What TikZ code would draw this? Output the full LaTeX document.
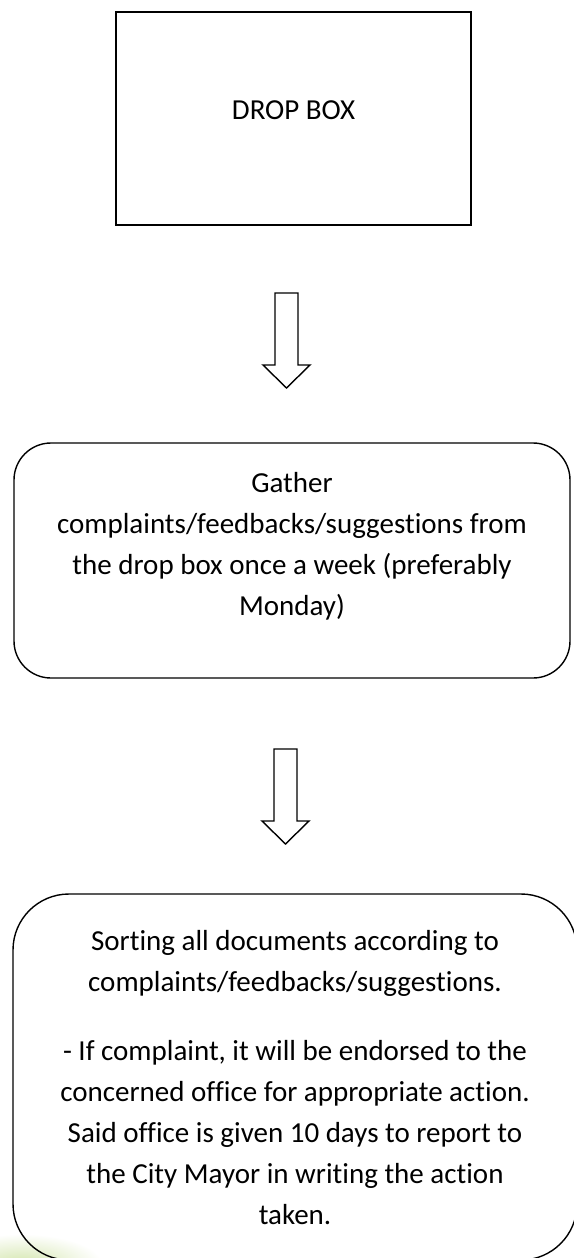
\documentclass[tikz,border=0pt]{standalone}
\usepackage{fontspec}
\setmainfont{Carlito}[Ligatures=NoCommon]
\usepackage{xcolor}
\usepackage{tikz}
\usetikzlibrary{positioning, calc}
\definecolor{smudge}{HTML}{D4E6AE}

% hollow block arrow pointing down: centre x, top y
\newcommand{\hollowarrow}[2]{%
  \draw[line width=1.4pt, line join=miter]
    (#1-11.5,#2) -- (#1+11.5,#2) -- (#1+11.5,#2+72) -- (#1+23.5,#2+72)
    -- (#1,#2+95) -- (#1-23.5,#2+72) -- (#1-11.5,#2+72) -- cycle;}

\begin{document}
\begin{tikzpicture}[x=1pt, y=-1pt,
  flowbox/.style={draw=black, line width=1.4pt, inner sep=0pt},
  flowtext/.style={font=\fontsize{29}{41}\selectfont, align=center, inner sep=0pt}]
\fill[white] (0,0) rectangle (573,1258);
\useasboundingbox (0,0) rectangle (573,1258);
\shade[inner color=smudge, outer color=white] (22,1264) ellipse (80 and 30);
% drop box
\node[flowbox, line width=1.8pt, minimum width=355pt, minimum height=213pt]
  (dropbox) at (293.5,118.5) {};
\node[flowtext, anchor=base] (droplabel) at (293.5,119) {DROP BOX};
\hollowarrow{286.5}{293}
% weekly gathering
\node[flowbox, rounded corners=37pt, minimum width=556pt, minimum height=235pt]
  (gather) at (292,560.5) {};
\node[flowtext] (gathertext) at (292,546.5)
  {Gather\\complaints/feedbacks/suggestions from\\the drop box once a week (preferably\\Monday)};
\hollowarrow{285.5}{749}
% sorting
\node[flowbox, rounded corners=56pt, minimum width=564pt, minimum height=366pt]
  (sorting) at (295,1077) {};
\node[flowtext] (sortingtext) at (295,1078)
  {Sorting all documents according to\\complaints/feedbacks/suggestions.\\[28pt]- If complaint, it will be endorsed to the\\concerned office for appropriate action.\\Said office is given 10 days to report to\\the City Mayor in writing the action\\taken.};
\end{tikzpicture}
\end{document}
